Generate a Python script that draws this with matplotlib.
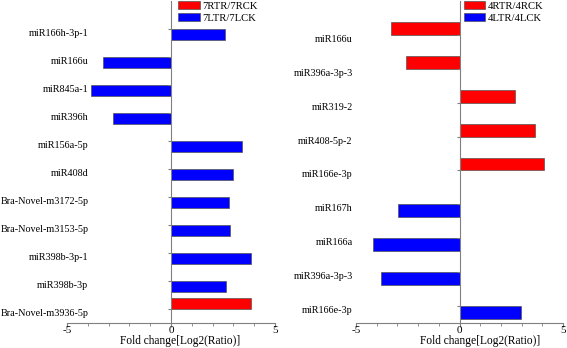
import numpy as np
import matplotlib
matplotlib.use("Agg")
import matplotlib.pyplot as plt
from matplotlib.ticker import MultipleLocator

plt.rcParams['font.family'] = ['Liberation Serif', 'DejaVu Serif']
plt.rcParams['axes.unicode_minus'] = False

# ---- data (top to bottom) ----
left_categories = ["miR166h-3p-1", "miR166u", "miR845a-1", "miR396h", "miR156a-5p",
                   "miR408d", "Bra-Novel-m3172-5p", "Bra-Novel-m3153-5p",
                   "miR398b-3p-1", "miR398b-3p", "Bra-Novel-m3936-5p"]
left_red = [None, None, None, None, None, None, None, None, None, None, 3.85]
left_blue = [2.6, -3.27, -3.85, -2.78, 3.4, 3.0, 2.8, 2.83, 3.85, 2.65, None]
left_series = ["7RTR/7RCK", "7LTR/7LCK"]

right_categories = ["miR166u", "miR396a-3p-3", "miR319-2", "miR408-5p-2", "miR166e-3p",
                    "miR167h", "miR166a", "miR396a-3p-3", "miR166e-3p"]
right_red = [-3.33, -2.6, 2.7, 3.63, 4.1, None, None, None, None]
right_blue = [None, None, None, None, None, -2.95, -4.2, -3.77, 2.95]
right_series = ["4RTR/4RCK", "4LTR/4LCK"]

xticks = [-5, 0, 5]

W, H = 567, 348
fig = plt.figure(figsize=(W / 100, H / 100), dpi=100)


def to_arr(v):
    return np.array([np.nan if x is None else x for x in v], dtype=float)


def panel(rect, cats, red, blue, series, ytop, bh, pad_px, legx, xlab_x):
    ax = fig.add_axes(rect)
    n = len(cats)
    pos = np.arange(n)[::-1]
    r = ax.barh(pos, to_arr(red), height=bh, align='edge', color='#ff0000',
                edgecolor='#555555', linewidth=0.5, label=series[0])
    b = ax.barh(pos, to_arr(blue), height=-bh, align='edge', color='#0000ff',
                edgecolor='#555555', linewidth=0.5, label=series[1])
    ax.set_xlim(-5, 5)
    ax.set_ylim(-0.5, ytop)
    ax.spines['top'].set_visible(False)
    ax.spines['right'].set_visible(False)
    ax.spines['left'].set_position(('data', 0))
    for s in ('left', 'bottom'):
        ax.spines[s].set_color('#808080')
        ax.spines[s].set_linewidth(0.8)
    ax.set_yticks(pos)
    ax.set_yticklabels(cats, fontsize=7.3)
    ax.tick_params(axis='y', length=2, color='#808080', pad=pad_px * 0.72)
    for lab in ax.get_yticklabels():
        lab.set_va('top')
    ax.set_xticks(xticks)
    ax.xaxis.set_minor_locator(MultipleLocator(1))
    ax.tick_params(axis='x', which='major', length=3, color='#808080', labelsize=8.0, pad=-1)
    ax.tick_params(axis='x', which='minor', length=2, color='#808080')
    ax.set_xlabel("Fold change[Log2(Ratio)]", fontsize=8.3)
    ax.xaxis.set_label_coords(xlab_x, -0.037)
    ax.legend(handles=[r, b], loc='upper left', bbox_to_anchor=(legx, 1.006),
              frameon=False, fontsize=7.7, handlelength=2.0, handleheight=0.75,
              labelspacing=0.2, handletextpad=0.25, borderaxespad=0, borderpad=0.2)
    return ax


panel([67 / W, 25 / H, 208 / W, 322 / H], left_categories, left_red, left_blue,
      left_series, 11.0, 0.41, 80, 0.525, 0.543)
panel([356 / W, 25 / H, 207 / W, 322 / H], right_categories, right_red, right_blue,
      right_series, 9.0, 0.38, 104, 0.51, 0.6)

fig.savefig("out.png", dpi=100)
